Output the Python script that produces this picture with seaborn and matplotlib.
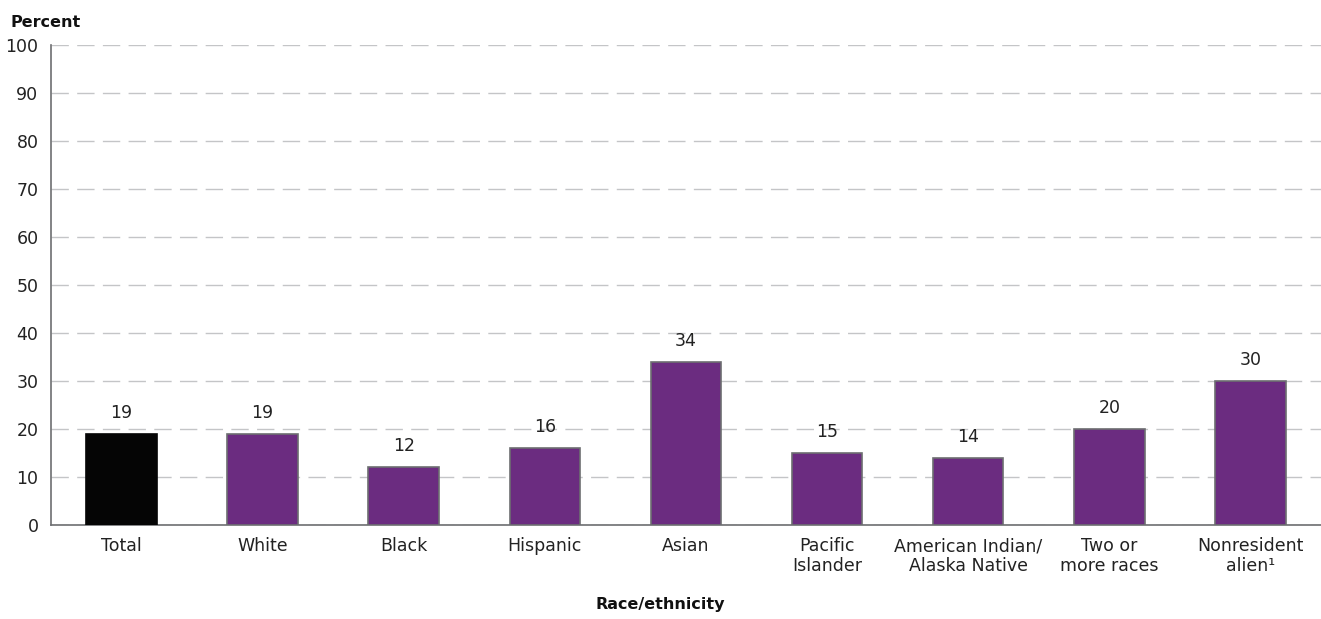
import matplotlib
matplotlib.use('Agg')
import matplotlib.pyplot as plt
import pandas as pd
import seaborn as sns

categories = ['Total', 'White', 'Black', 'Hispanic', 'Asian', 'Pacific\nIslander',
              'American Indian/\nAlaska Native', 'Two or\nmore races', 'Nonresident\nalien\u00b9']
values = [19, 19, 12, 16, 34, 15, 14, 20, 30]
y_ticks = [0, 10, 20, 30, 40, 50, 60, 70, 80, 90, 100]

sns.set_style('white')
plt.rcParams['font.family'] = ['DejaVu Sans']

df = pd.DataFrame({'group': categories, 'pct': values})
colors = ['#050505'] + ['#6B2C80'] * (len(categories) - 1)

fig = plt.figure(figsize=(13.21, 6.19), dpi=100)
ax = fig.add_axes([0.0386, 0.152, 0.9614, 0.775])

sns.barplot(data=df, x='group', y='pct', hue='group', palette=colors,
            legend=False, width=0.5, ax=ax, zorder=3,
            edgecolor='#6d6e71', linewidth=1.2, saturation=1)
ax.patches[0].set_edgecolor('#050505')

for i, v in enumerate(values):
    ax.text(i, v + 2.5, str(v), ha='center', va='bottom', fontsize=12.5, color='#222222')

ax.set_xlim(-0.5, 8.5)
ax.set_ylim(0, 100)
ax.set_yticks(y_ticks)
ax.yaxis.grid(True, linestyle=(0, (12.5, 6)), color='#c4c5c7', linewidth=1, zorder=0)
ax.set_axisbelow(True)

for s in ['top', 'right']:
    ax.spines[s].set_visible(False)
for s in ['left', 'bottom']:
    ax.spines[s].set_color('#6d6e71')
    ax.spines[s].set_linewidth(1.2)

ax.tick_params(axis='both', length=0, labelsize=12.5, colors='#222222')
ax.tick_params(axis='x', pad=9)
ax.tick_params(axis='y', pad=9)
for lbl in ax.get_xticklabels():
    lbl.set_linespacing(1.1)
ax.set_xlabel('')
ax.set_ylabel('')
fig.text(0.5, 1 - 605 / 619, 'Race/ethnicity', fontsize=11.5, fontweight='bold',
         ha='center', va='center', color='#111111')
fig.text(0.008, 0.975, 'Percent', fontsize=11.5, fontweight='bold', ha='left', va='top', color='#111111')

fig.savefig('out.png', dpi=100)
